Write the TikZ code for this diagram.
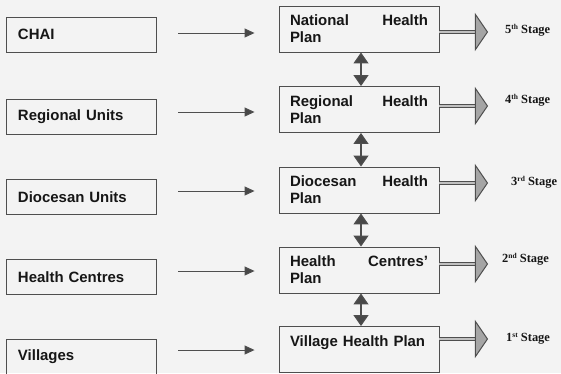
\documentclass[tikz,border=0pt]{standalone}
\usepackage{fontspec}
\setmainfont{Liberation Sans}
\newfontfamily\stagefont{Liberation Serif}
\usetikzlibrary{arrows.meta}
\definecolor{bg}{RGB}{243,243,243}
\definecolor{ln}{RGB}{78,78,78}
\definecolor{tx}{RGB}{22,22,22}
\definecolor{tipc}{RGB}{72,72,72}
\definecolor{headc}{RGB}{165,165,165}
\newcommand{\sups}[1]{\raisebox{4pt}{\fontsize{7.5}{8}\selectfont #1}}
\newcommand{\wsp}{\hskip 0pt plus 1filll\relax}
\begin{document}
\begin{tikzpicture}[x=1bp,y=-1bp,
  boxfont/.style={font=\fontsize{15}{17}\bfseries\selectfont},
  lbox/.style={boxfont, draw=ln, line width=0.9bp, text=tx, minimum width=150bp,
    minimum height=35bp, text width=126bp, inner xsep=12bp, align=left},
  rbox/.style={boxfont, draw=ln, line width=0.9bp, text=tx, minimum width=160bp,
    minimum height=46bp, text width=138bp, inner xsep=11bp, align=left},
  larr/.style={draw=ln, line width=1bp, shorten <=22bp, shorten >=24bp,
    -{Triangle[length=10bp,width=9bp,fill=tipc]}},
  varr/.style={draw=ln, line width=1.2bp,
    {Triangle[length=11bp,width=15bp,fill=tipc]}-{Triangle[length=11bp,width=15bp,fill=tipc]}},
  shaft/.style={draw=ln, line width=1bp, double=headc!70, double distance=2bp},
  head/.style={draw=ln, line width=1bp, fill=headc, line join=miter},
  stagelbl/.style={anchor=west, inner sep=0pt, text=tx, font=\stagefont\fontsize{12.5}{14}\bfseries\selectfont}
]
\useasboundingbox[fill=bg] (0,0) rectangle (561,373);

% left column
\node[lbox] (chai) at (81,34.5)  {CHAI};
\node[lbox] (ru)   at (81,116.5) {Regional Units};
\node[lbox] (du)   at (81,197)   {Diocesan Units};
\node[lbox] (hc)   at (81,277)   {Health Centres};
\node[lbox] (vi)   at (81,356.5) {Villages};

% right column
\node[rbox] (n5) at (359,29)    {National\wsp Health\\Plan};
\node[rbox] (n4) at (359,109.5) {Regional\wsp Health\\Plan};
\node[rbox] (n3) at (359,190)   {Diocesan\wsp Health\\Plan};
\node[rbox] (n2) at (359,270)   {Health\wsp Centres'\\Plan};
\node[rbox] (n1) at (359,349.5) {Village Health Plan\\\mbox{}};

% left arrows
\draw[larr] ([yshift=1.5bp]chai.east) -- ([yshift=1.5bp]chai.east -| n5.west);
\draw[larr] ([yshift=4.5bp]ru.east) -- ([yshift=4.5bp]ru.east -| n4.west);
\draw[larr] ([yshift=6bp]du.east) -- ([yshift=6bp]du.east -| n3.west);
\draw[larr] ([yshift=6bp]hc.east) -- ([yshift=6bp]hc.east -| n2.west);
\draw[larr] ([yshift=6.5bp]vi.east) -- ([yshift=6.5bp]vi.east -| n1.west);

% vertical double arrows
\draw[varr] ([xshift=2bp]n5.south) -- ([xshift=2bp]n4.north);
\draw[varr] ([xshift=2bp]n4.south) -- ([xshift=2bp]n3.north);
\draw[varr] ([xshift=2bp]n3.south) -- ([xshift=2bp]n2.north);
\draw[varr] ([xshift=2bp]n2.south) -- ([xshift=2bp]n1.north);

% stage arrows
\draw[shaft] ([yshift=-3bp]n5.east) -- ++(36,0) coordinate (h5);
\draw[shaft] ([yshift=3.5bp]n4.east) -- ++(36,0) coordinate (h4);
\draw[shaft] ([yshift=7bp]n3.east) -- ++(36,0) coordinate (h3);
\draw[shaft] ([yshift=6bp]n2.east) -- ++(36,0) coordinate (h2);
\draw[shaft] ([yshift=10.5bp]n1.east) -- ++(36,0) coordinate (h1);
\foreach \h in {h5,h4,h3,h2,h1}{
  \draw[head] (\h) ++(0,-17.5) -- ++(12,17.5) -- ++(-12,17.5) -- cycle;
}

% stage labels
\node[stagelbl] (s5) at (505,30)  {5\sups{th} Stage};
\node[stagelbl] (s4) at (505,100) {4\sups{th} Stage};
\node[stagelbl] (s3) at (511,182) {3\sups{rd} Stage};
\node[stagelbl] (s2) at (502,259) {2\sups{nd} Stage};
\node[stagelbl] (s1) at (506,339) {1\sups{st} Stage};
\end{tikzpicture}
\end{document}
